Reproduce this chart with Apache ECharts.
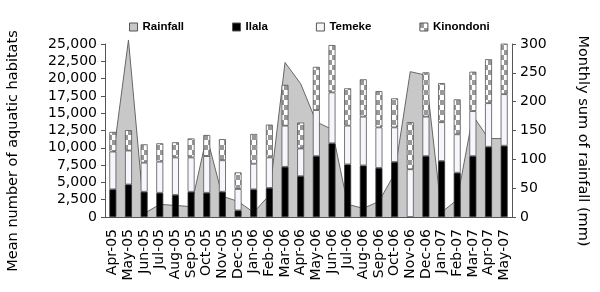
<!DOCTYPE html>
<html>
<head>
<meta charset="utf-8">
<script src="https://cdn.jsdelivr.net/npm/echarts@6/dist/echarts.min.js"></script>
<style>
html,body{margin:0;padding:0;background:#fff}
#main{width:600px;height:292px}
</style>
</head>
<body>
<div id="main"></div>
<script>
var months = ['Apr-05','May-05','Jun-05','Jul-05','Aug-05','Sep-05','Oct-05','Nov-05','Dec-05','Jan-06','Feb-06','Mar-06','Apr-06',
    'May-06','Jun-06','Jul-06','Aug-06','Sep-06','Oct-06','Nov-06','Dec-06','Jan-07','Feb-07','Mar-07','Apr-07','May-07']
// stacked habitat counts ('-' = no value that month)
var ilala = [4000,4700,3650,3500,3200,3650,3500,3650,950,4000,4200,7250,5900,
    8800,10650,7600,7450,7100,7950,'-',8800,8100,6400,8800,10150,10300]
var temeke = [5450,4900,4200,4500,5400,4950,5300,4550,3100,3700,4400,5950,4000,
    6650,7350,5600,7050,5850,5000,6900,5700,5600,5550,6500,6300,7450]
var kinondoni = [2850,2950,2650,2650,2200,2750,3050,3050,2400,4300,4750,5900,3750,
    6250,6850,5400,5400,5250,4200,6800,6400,5650,5050,5700,6350,7300]
// monthly rainfall (mm)
var rainfall = [100,307,6,22,20,18,140,36,27,8,38,268,231,
    165,152,22,15,27,75,252,246,8,30,176,136,136]

var pat = document.createElement('canvas')
pat.width = 8; pat.height = 10
var pc = pat.getContext('2d')
pc.fillStyle = '#ffffff'; pc.fillRect(0,0,8,10)
pc.fillStyle = '#999999'
pc.fillRect(0,0,4,5); pc.fillRect(4,5,4,5)

var fnt = 'DejaVu Sans'
var myChart = echarts.init(document.getElementById('main'))

option = {
    animation: false,
    legend: {
        top: 16, left: 124, itemGap: 48,
        itemWidth: 8, itemHeight: 8, icon: 'rect',
        itemStyle: {borderColor: '#555', borderWidth: 1},
        textStyle: {fontFamily: 'Liberation Sans', fontWeight: 'bold', fontSize: 11.5, color: '#000'},
        data: ['Rainfall','Ilala','Temeke','Kinondoni']
    },
    grid: {left: 105, right: 88, top: 44, bottom: 75},
    xAxis: {
        type: 'category',
        data: months,
        axisLine: {lineStyle: {color: '#555'}},
        axisTick: {length: 4, lineStyle: {color: '#555'}},
        axisLabel: {rotate: 90, interval: 0, margin: 12, color: '#000', fontFamily: fnt, fontSize: 14}
    },
    yAxis: [{
        type: 'value', min: 0, max: 25000, interval: 2500,
        splitLine: {show: false},
        axisLine: {show: true, lineStyle: {color: '#555'}},
        axisTick: {show: true, length: 4, lineStyle: {color: '#555'}},
        axisLabel: {color: '#000', fontFamily: fnt, fontSize: 14, margin: 8}
    }, {
        type: 'value', min: 0, max: 300, interval: 50,
        splitLine: {show: false},
        axisLine: {show: true, lineStyle: {color: '#555'}},
        axisTick: {show: true, length: 4, lineStyle: {color: '#555'}},
        axisLabel: {color: '#000', fontFamily: fnt, fontSize: 14, margin: 8}
    }],
    graphic: [{
        type: 'text', x: 13, y: 151, rotation: Math.PI / 2,
        style: {text: 'Mean number of aquatic habitats', fontFamily: fnt, fontSize: 14.5, fill: '#000',
            align: 'center', verticalAlign: 'middle'}
    }, {
        type: 'text', x: 583, y: 141, rotation: -Math.PI / 2,
        style: {text: 'Monthly sum of rainfall (mm)', fontFamily: fnt, fontSize: 14.5, fill: '#000',
            align: 'center', verticalAlign: 'middle'}
    }],
    series: [{
        name: 'Rainfall', type: 'line', yAxisIndex: 1, z: 1,
        data: rainfall, symbol: 'none', clip: false,
        itemStyle: {color: '#c8c8c8'},
        lineStyle: {color: '#666', width: 1},
        areaStyle: {color: '#c8c8c8', opacity: 1}
    }, {
        name: 'Ilala', type: 'bar', stack: 'h', z: 3, barWidth: 7,
        data: ilala,
        itemStyle: {color: '#000', borderColor: '#333', borderWidth: 0.8}
    }, {
        name: 'Temeke', type: 'bar', stack: 'h', z: 3, barWidth: 7,
        data: temeke,
        itemStyle: {color: '#f6f6fd', borderColor: '#555', borderWidth: 0.8}
    }, {
        name: 'Kinondoni', type: 'bar', stack: 'h', z: 3, barWidth: 7,
        data: kinondoni,
        itemStyle: {color: {image: pat, repeat: 'repeat'}, borderColor: '#555', borderWidth: 0.8}
    }]
}
myChart.setOption(option)
</script>
</body>
</html>
